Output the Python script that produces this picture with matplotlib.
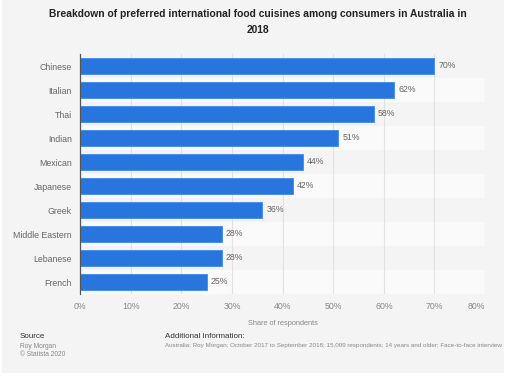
import matplotlib.pyplot as plt
from matplotlib.patches import Rectangle

# chart data
cuisines = ["Chinese", "Italian", "Thai", "Indian", "Mexican", "Japanese",
            "Greek", "Middle Eastern", "Lebanese", "French"]
shares = [70, 62, 58, 51, 44, 42, 36, 28, 28, 25]
x_ticks = [0, 10, 20, 30, 40, 50, 60, 70, 80]
x_tick_labels = [f"{t}%" for t in x_ticks]

plt.rcParams['font.family'] = ['Liberation Sans', 'DejaVu Sans']

W, H = 517, 378
fig = plt.figure(figsize=(W / 100, H / 100), dpi=100)
fig.patch.set_facecolor('white')

# light grey panel behind everything
fig.patches.append(Rectangle((2 / W, 1 - 373 / H), 502 / W, 373 / H,
                             transform=fig.transFigure, facecolor='#f4f4f4',
                             edgecolor='none', zorder=-5))

ax = fig.add_axes([80 / W, 1 - 294 / H, 405 / W, 240 / H])
ax.set_facecolor('#f4f4f4')

n = len(cuisines)
ypos = list(range(n))

# alternating row bands
for i in ypos:
    ax.axhspan(i - 0.5, i + 0.5, color='#f4f4f4' if i % 2 == 0 else '#fafafa',
               zorder=0, lw=0)

ax.barh(ypos, shares, height=0.66, color='#2876dd', edgecolor='#3d8af0',
        linewidth=0.6, zorder=3)

for y, v in zip(ypos, shares):
    ax.annotate(f"{v}%", (v, y), xytext=(3, 0), textcoords='offset points',
                va='center', ha='left', fontsize=6.3, color='#666666')

ax.set_xlim(0, 80)
ax.set_ylim(n - 0.5, -0.5)
ax.set_xticks(x_ticks)
ax.set_xticklabels(x_tick_labels)
ax.get_xticklabels()[-1].set_ha('right')
ax.set_yticks(ypos)
ax.set_yticklabels(cuisines)
ax.tick_params(axis='both', length=0, labelsize=6.3)
ax.tick_params(axis='y', pad=6, labelcolor='#666666')
ax.tick_params(axis='x', pad=6, labelcolor='#888888')
ax.grid(axis='x', color='#e2e2e2', linewidth=0.8, zorder=1)
ax.set_axisbelow(True)
for s in ['top', 'right', 'bottom']:
    ax.spines[s].set_visible(False)
ax.spines['left'].set_color('#555555')
ax.spines['left'].set_linewidth(0.9)
ax.spines['left'].set_zorder(4)

ax.set_xlabel("Share of respondents", fontsize=5.3, color='#888888', labelpad=6)

fig.text(258 / W, 1 - 22 / H,
         "Breakdown of preferred international food cuisines among consumers in Australia in\n2018",
         ha='center', va='center', fontsize=7.4, fontweight='bold', color='#222222',
         linespacing=1.75)

fig.text(20 / W, 1 - 337 / H, "Source", fontsize=5.8, color='#333333', va='center')
fig.text(20 / W, 1 - 346 / H, "Roy Morgan", fontsize=4.8, color='#888888', va='center')
fig.text(20 / W, 1 - 355 / H, "\u00a9 Statista 2020", fontsize=4.8, color='#888888', va='center')
fig.text(165 / W, 1 - 337 / H, "Additional Information:", fontsize=5.8, color='#333333', va='center')
fig.text(165 / W, 1 - 346 / H,
         "Australia; Roy Morgan; October 2017 to September 2018; 15,009 respondents; 14 years and older; Face-to-face interview",
         fontsize=4.5, color='#888888', va='center')

fig.savefig("out.png", dpi=100)
